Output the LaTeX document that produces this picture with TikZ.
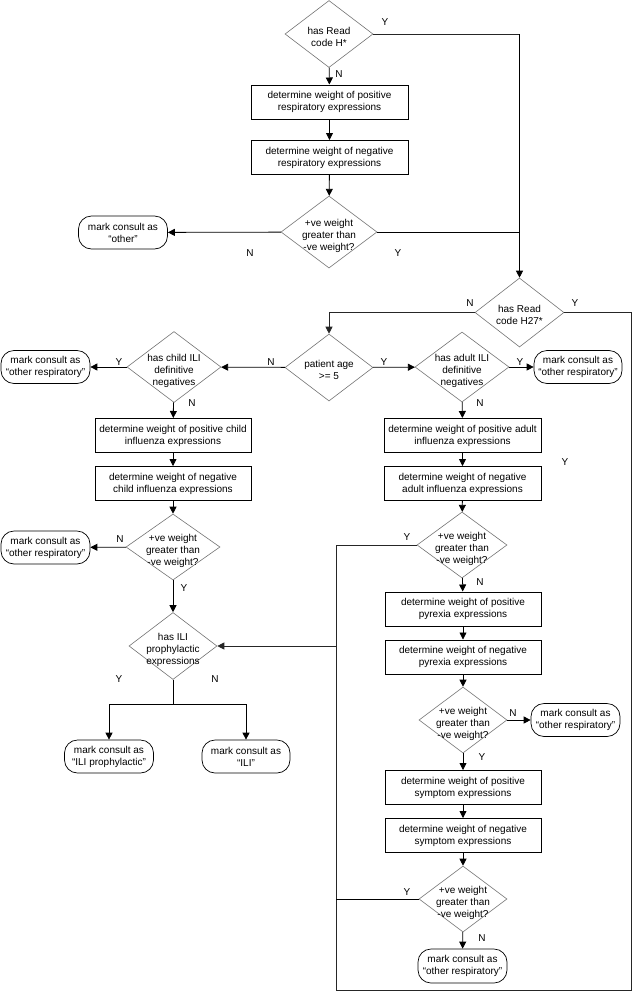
\documentclass[tikz,border=0pt]{standalone}
\usepackage{fontspec}
\setmainfont{Liberation Sans}
\usepackage{tikz}
\usetikzlibrary{shapes.geometric,arrows.meta,positioning}

% text of a diamond: takes no room, so the diamond keeps its own size
\newcommand{\dlines}[1]{\smash{\makebox[0pt]{\raisebox{-6.5pt}{\begin{tabular}{@{}c@{}}#1\end{tabular}}}}}

\begin{document}
\begin{tikzpicture}[x=1pt, y=-1pt, node distance=48pt,
    every node/.style={font=\fontsize{10}{12}\selectfont},
    decision/.style={diamond, draw=black!55, line width=0.6pt, inner sep=0pt, minimum width=88pt, minimum height=67pt},
    stepbox/.style={rectangle, draw, line width=1pt, minimum width=157pt, minimum height=34pt, align=center, inner sep=2pt},
    endbox/.style={rectangle, rounded corners=13pt, draw, line width=0.7pt, minimum width=89pt, minimum height=33pt, align=center, inner sep=2pt},
    yn/.style={inner sep=0pt},
    flow/.style={-{Triangle[length=7pt,width=7pt]}, line width=0.8pt},
    route/.style={draw=black!85, line width=1pt}]
    \useasboundingbox (0,0) rectangle (633,993);

    % top column
    \node (readh) [decision] at (329,34) {\dlines{has Read\\code H*}};
    \node (respos) [stepbox] at (329.5,102) {determine weight of positive\\respiratory expressions};
    \node (resneg) [stepbox] at (329.5,157.5) {determine weight of negative\\respiratory expressions};
    \node (rescmp) [decision, minimum width=96pt, minimum height=72pt] at (329,232) {\dlines{+ve weight\\greater than\\-ve weight?}};
    \node (other) [endbox] at (123,232.5) {mark consult as\\“other”};

    % age split
    \node (readh27) [decision, minimum width=89pt, minimum height=69pt] at (519.5,312.5) {\dlines{has Read\\code H27*}};
    \node (age) [decision] at (329,367.5) {\dlines{patient age\\>= 5}};
    \node (childneg) [decision, minimum width=94pt, minimum height=71pt] at (174,367) {\dlines{has child ILI\\definitive\\negatives}};
    \node (adultneg) [decision, minimum width=94pt, minimum height=70pt] at (462,367) {\dlines{has adult ILI\\definitive\\negatives}};
    \node (childresp) [endbox] at (45.5,367) {mark consult as\\“other respiratory”};
    \node (adultresp) [endbox, minimum width=88pt] at (578,367) {mark consult as\\“other respiratory”};

    % child column
    \node (childpos) [stepbox, minimum width=156pt] at (173,435.5) {determine weight of positive child\\influenza expressions};
    \node (childnegw) [stepbox, minimum width=156pt, below of=childpos] {determine weight of negative\\child influenza expressions};
    \node (childcmp) [decision, minimum width=94pt, minimum height=66pt] at (173,547) {\dlines{+ve weight\\greater than\\-ve weight?}};
    \node (childcmpresp) [endbox] at (45.5,547.5) {mark consult as\\“other respiratory”};
    \node (prophyl) [decision] at (173,646) {\dlines{has ILI\\prophylactic\\expressions}};
    \node (markproph) [endbox] at (109,756.5) {mark consult as\\“ILI prophylactic”};
    \node (markili) [endbox, minimum width=88pt] at (246,756.5) {mark consult as\\“ILI”};

    % adult column
    \node (adultpos) [stepbox] at (462.5,435.5) {determine weight of positive adult\\influenza expressions};
    \node (adultnegw) [stepbox, below of=adultpos] {determine weight of negative\\adult influenza expressions};
    \node (adultcmp) [decision, minimum width=90pt, minimum height=66pt] at (462,545) {\dlines{+ve weight\\greater than\\-ve weight?}};
    \node (pyrpos) [stepbox, minimum width=156pt] at (463,609) {determine weight of positive\\pyrexia expressions};
    \node (pyrneg) [stepbox, minimum width=156pt, below of=pyrpos] {determine weight of negative\\pyrexia expressions};
    \node (pyrcmp) [decision, minimum height=66pt] at (463,720) {\dlines{+ve weight\\greater than\\-ve weight?}};
    \node (pyrresp) [endbox] at (575.5,720) {mark consult as\\“other respiratory”};
    \node (sympos) [stepbox, minimum width=156pt] at (463,787.5) {determine weight of positive\\symptom expressions};
    \node (symneg) [stepbox, minimum width=156pt, below of=sympos] {determine weight of negative\\symptom expressions};
    \node (symcmp) [decision, minimum height=66pt] at (463,899) {\dlines{+ve weight\\greater than\\-ve weight?}};
    \node (symresp) [endbox, minimum height=34pt] at (462.5,966) {mark consult as\\“other respiratory”};

    % Y / N labels
    \node (readhy) [yn] at (385,22) {Y};
    \node (readhn) [yn] at (339,74) {N};
    \node (rescmpn) [yn] at (250,253) {N};
    \node (rescmpy) [yn] at (398,253) {Y};
    \node (readh27n) [yn] at (470,303) {N};
    \node (readh27y) [yn] at (575,303) {Y};
    \node (childnegy) [yn] at (119,362) {Y};
    \node (agen) [yn] at (271,362) {N};
    \node (agey) [yn] at (384,362) {Y};
    \node (adultnegy) [yn] at (520,362) {Y};
    \node (childnegn) [yn] at (192,403) {N};
    \node (adultnegn) [yn] at (480,403) {N};
    \node (loopy) [yn] at (565,462) {Y};
    \node (childcmpn) [yn] at (120,539) {N};
    \node (childcmpy) [yn] at (184,588) {Y};
    \node (adultcmpy) [yn] at (407,537) {Y};
    \node (adultcmpn) [yn] at (480,582) {N};
    \node (prophyly) [yn] at (119,679) {Y};
    \node (prophyln) [yn] at (215,679) {N};
    \node (pyrcmpn) [yn] at (513,713) {N};
    \node (pyrcmpy) [yn] at (482,757) {Y};
    \node (symcmpy) [yn] at (407,892) {Y};
    \node (symcmpn) [yn] at (482,938) {N};

    \coordinate (loopr) at (631.5,990);
    \coordinate (loopl) at (336,990);
    \coordinate (split) at (173,704);

    % top column
    \draw[flow] (readh) -- (respos);
    \draw[flow] (respos) -- (resneg);
    \draw[flow] (resneg) -- (rescmp);
    \draw[flow] (rescmp) -- (other);
    \draw[route] (readh.east) -- (readh.east -| readh27.north);
    \draw[flow] (readh.east -| readh27.north) -- (readh27.north);
    \draw (rescmp.east) -- (rescmp.east -| readh27.north);

    % age split
    \draw[route, flow] (readh27.west) -| (age.north);
    \draw[flow] (age) -- (childneg);
    \draw[flow] (age) -- (adultneg);
    \draw[flow] (childneg) -- (childresp);
    \draw[flow] (adultneg) -- (adultresp);

    % child column
    \draw[flow] (childneg) -- (childpos);
    \draw[flow] (childpos) -- (childnegw);
    \draw[flow] (childnegw) -- (childcmp);
    \draw[flow] (childcmp) -- (childcmpresp);
    \draw[flow] (childcmp) -- (prophyl);
    \draw (prophyl.south) -- (split);
    \draw[flow] (split) -| (markproph.north);
    \draw[flow] (split) -| (markili.north);

    % adult column
    \draw[flow] (adultneg) -- (adultpos);
    \draw[flow] (adultpos) -- (adultnegw);
    \draw[flow] (adultnegw) -- (adultcmp);
    \draw[flow] (adultcmp) -- (pyrpos);
    \draw[flow] (pyrpos) -- (pyrneg);
    \draw[flow] (pyrneg) -- (pyrcmp);
    \draw[flow] (pyrcmp) -- (pyrresp);
    \draw[flow] (pyrcmp) -- (sympos);
    \draw[flow] (sympos) -- (symneg);
    \draw[flow] (symneg) -- (symcmp);
    \draw[flow] (symcmp) -- (symresp);

    % Y loop back to the prophylactic test
    \draw[route] (readh27.east) -| (loopr) -- (loopl) |- (adultcmp.west);
    \draw (symcmp.west) -- (symcmp.west -| loopl);
    \draw[route, flow] (loopl |- prophyl.east) -- (prophyl.east);
\end{tikzpicture}
\end{document}
